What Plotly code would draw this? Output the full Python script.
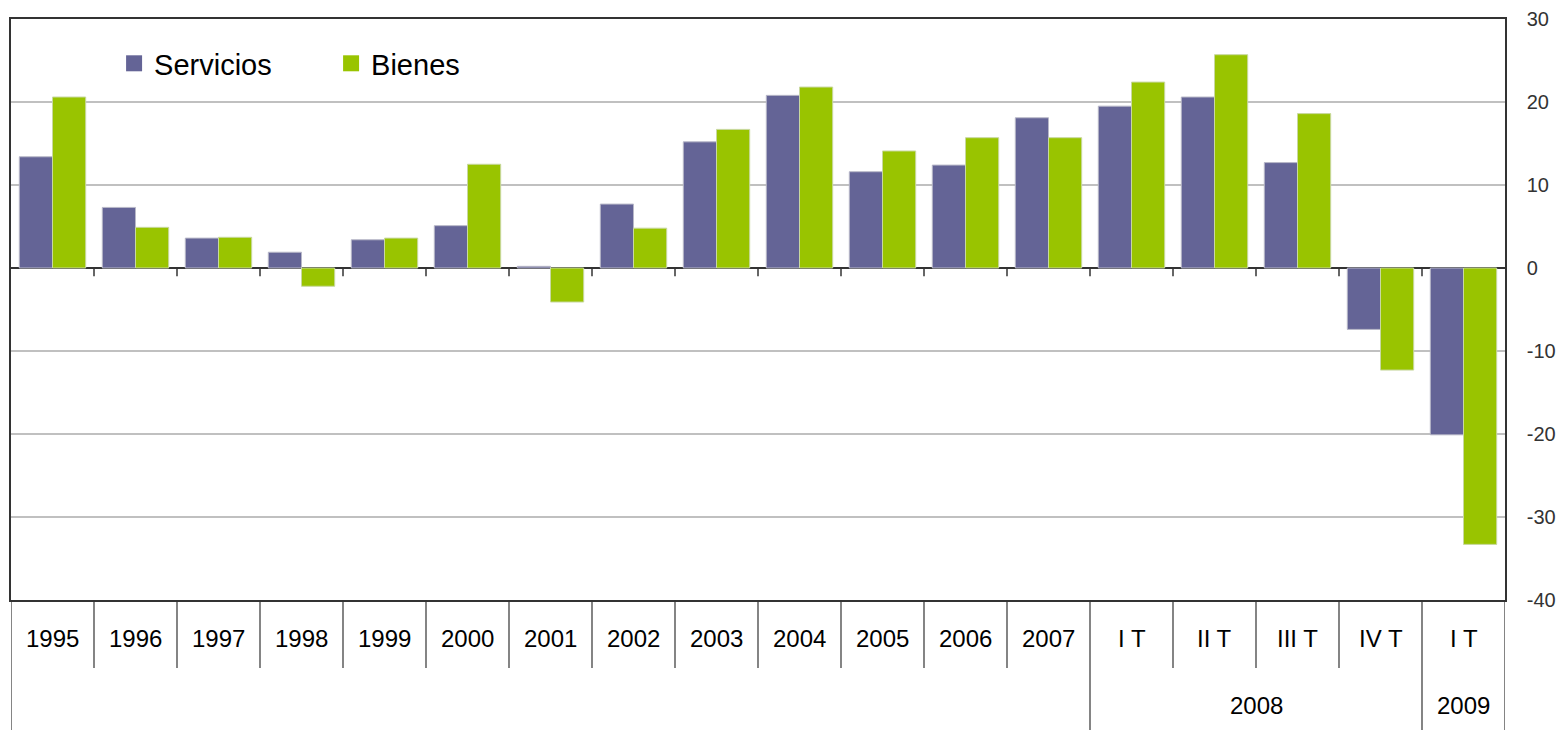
import plotly.graph_objects as go

categories = ["1995", "1996", "1997", "1998", "1999", "2000", "2001", "2002", "2003",
              "2004", "2005", "2006", "2007", "I T", "II T", "III T", "IV T", "I T"]
servicios = [13.4, 7.3, 3.6, 1.9, 3.4, 5.1, 0.2, 7.7, 15.2, 20.8, 11.6, 12.4, 18.1,
             19.5, 20.6, 12.7, -7.4, -20.1]
bienes = [20.6, 4.9, 3.7, -2.2, 3.6, 12.5, -4.1, 4.8, 16.7, 21.8, 14.1, 15.7, 15.7,
          22.4, 25.7, 18.6, -12.3, -33.3]
groups = [("2008", 13, 16), ("2009", 17, 17)]
y_ticks = [30, 20, 10, 0, -10, -20, -30, -40]
y_ticktext = [str(v) for v in y_ticks]

FONT = "Liberation Sans, Arial, sans-serif"
C_SERV = "#646496"
C_BIEN = "#99C400"
idx = list(range(len(categories)))

fig = go.Figure()
fig.add_trace(go.Bar(x=idx, y=servicios, name="Servicios", showlegend=False,
                     legendgroup="s",
                     marker=dict(color=C_SERV, line=dict(color="#B8B8C8", width=1))))
fig.add_trace(go.Bar(x=idx, y=bienes, name="Bienes", showlegend=False,
                     legendgroup="b",
                     marker=dict(color=C_BIEN, line=dict(color="#C8D8A0", width=1))))
# legend entries (square keys)
fig.add_trace(go.Scatter(x=[None], y=[None], mode="markers", name="Servicios",
                         legendgroup="s",
                         marker=dict(symbol="square", size=16, color=C_SERV)))
fig.add_trace(go.Scatter(x=[None], y=[None], mode="markers", name="Bienes",
                         legendgroup="b",
                         marker=dict(symbol="square", size=16, color=C_BIEN)))

PLOT_H = 581
shapes = []
n = len(categories)
for k in range(n - 1):
    shapes.append(dict(type="line", xref="x", yref="y", x0=k + 0.5, x1=k + 0.5,
                       y0=0, y1=-1.0, line=dict(color="#333333", width=1.5)))
row1_bottom = -68 / PLOT_H
row2_bottom = -135 / PLOT_H
full = {-1, 12, 16, n - 1}
for k in range(-1, n):
    yb = row2_bottom if k in full else row1_bottom
    shapes.append(dict(type="line", xref="x", yref="paper", x0=k + 0.5, x1=k + 0.5,
                       y0=0, y1=yb, line=dict(color="#333333", width=1.2)))

annotations = []
for k, c in enumerate(categories):
    annotations.append(dict(x=k, y=-38 / PLOT_H, xref="x", yref="paper", text=c,
                            showarrow=False, font=dict(size=24, color="#000000", family=FONT),
                            xanchor="center", yanchor="middle"))
for g, a, b in groups:
    annotations.append(dict(x=(a + b) / 2, y=-105 / PLOT_H, xref="x", yref="paper", text=g,
                            showarrow=False, font=dict(size=24, color="#000000", family=FONT),
                            xanchor="center", yanchor="middle"))

fig.update_layout(
    width=1558, height=730,
    margin=dict(l=11, r=53, t=19, b=130, autoexpand=False),
    paper_bgcolor="white", plot_bgcolor="white",
    barmode="group", bargap=0.2, bargroupgap=0,
    font=dict(family=FONT, color="#333333"),
    showlegend=True,
    hovermode=False,
    legend=dict(orientation="h", x=0.069, y=0.9235, xanchor="left", yanchor="middle",
                font=dict(size=29, color="#000000", family=FONT),
                bgcolor="rgba(0,0,0,0)", entrywidth=172, itemwidth=30, tracegroupgap=0,
                itemclick=False, itemdoubleclick=False),
    xaxis=dict(range=[-0.5, n - 0.5], showticklabels=False, showgrid=False, zeroline=False,
               showline=True, mirror=True, linecolor="#333333", linewidth=1.5, ticks="",
               automargin=False),
    yaxis=dict(range=[-40, 30], side="right", tickvals=y_ticks, ticktext=y_ticktext,
               showgrid=True, gridcolor="#C0C0C0", gridwidth=2, zeroline=True,
               zerolinecolor="#333333", zerolinewidth=1.5, showline=True, mirror=True,
               linecolor="#333333", linewidth=1.5, ticks="", ticklabelstandoff=16,
               automargin=False,
               tickfont=dict(size=20, color="#333333", family=FONT)),
    shapes=shapes,
    annotations=annotations,
)

fig.write_html("out.html",
               config={"displayModeBar": False},
               post_script="document.body.style.margin='0';document.body.style.overflow='hidden';")
